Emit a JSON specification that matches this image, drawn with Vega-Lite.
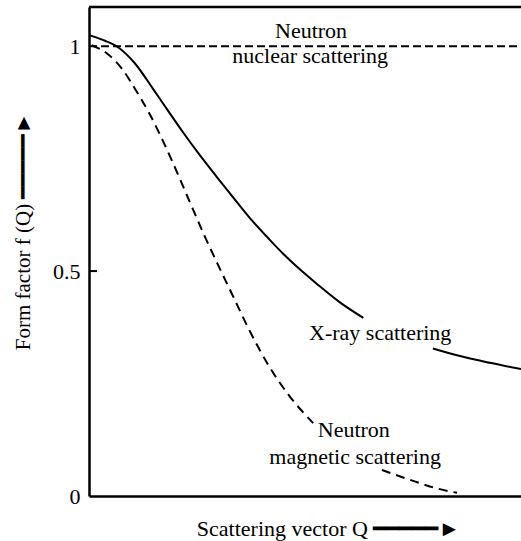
{
  "$schema": "https://vega.github.io/schema/vega-lite/v6.json",
  "autosize": "none",
  "width": 432,
  "height": 489,
  "padding": {"left": 89, "top": 7, "right": 0, "bottom": 45},
  "background": "white",
  "config": {"view": {"stroke": null}, "font": "Liberation Serif"},
  "datasets": {
    "xray1": [
      {"Q": 0.002, "f": 1.024}, {"Q": 0.037, "f": 1.012}, {"Q": 0.068, "f": 0.997},
      {"Q": 0.106, "f": 0.962}, {"Q": 0.149, "f": 0.904}, {"Q": 0.184, "f": 0.855},
      {"Q": 0.218, "f": 0.808}, {"Q": 0.257, "f": 0.757}, {"Q": 0.296, "f": 0.709},
      {"Q": 0.335, "f": 0.662}, {"Q": 0.373, "f": 0.617}, {"Q": 0.415, "f": 0.573},
      {"Q": 0.450, "f": 0.538}, {"Q": 0.488, "f": 0.504}, {"Q": 0.527, "f": 0.472},
      {"Q": 0.580, "f": 0.431}, {"Q": 0.635, "f": 0.396}
    ],
    "xray2": [
      {"Q": 0.796, "f": 0.328}, {"Q": 0.859, "f": 0.311}, {"Q": 0.928, "f": 0.296}, {"Q": 1.0, "f": 0.282}
    ],
    "mag1": [
      {"Q": 0.006, "f": 1.002}, {"Q": 0.044, "f": 0.982}, {"Q": 0.076, "f": 0.950},
      {"Q": 0.106, "f": 0.906}, {"Q": 0.141, "f": 0.848}, {"Q": 0.1875, "f": 0.755},
      {"Q": 0.234, "f": 0.652}, {"Q": 0.269, "f": 0.575}, {"Q": 0.303, "f": 0.505},
      {"Q": 0.334, "f": 0.443}, {"Q": 0.373, "f": 0.365}, {"Q": 0.419, "f": 0.285},
      {"Q": 0.465, "f": 0.221}, {"Q": 0.519, "f": 0.162}
    ],
    "mag2": [
      {"Q": 0.678, "f": 0.058}, {"Q": 0.743, "f": 0.036}, {"Q": 0.801, "f": 0.018}, {"Q": 0.852, "f": 0.007}
    ],
    "nuclear": [{"Q": 0.0, "f": 1.0}, {"Q": 1.0, "f": 1.0}],
    "ticks": [{"f": 0.5}],
    "labels": [
      {"label": "Neutron", "Q": 0.514, "f": 1.018},
      {"label": "nuclear scattering", "Q": 0.512, "f": 0.962},
      {"label": "X-ray scattering", "Q": 0.674, "f": 0.347},
      {"label": "Neutron", "Q": 0.613, "f": 0.132},
      {"label": "magnetic scattering", "Q": 0.616, "f": 0.071}
    ]
  },
  "layer": [
    {
      "data": {"name": "nuclear"},
      "mark": {"type": "line", "color": "black", "strokeWidth": 2, "strokeDash": [8, 4], "clip": true},
      "encoding": {
        "x": {
          "field": "Q", "type": "quantitative",
          "scale": {"domain": [0, 1], "nice": false, "zero": false},
          "axis": {
            "orient": "bottom", "domain": true, "domainColor": "black", "domainWidth": 2.5,
            "ticks": false, "labels": false, "grid": false,
            "title": "Scattering vector Q ━━━━━►",
            "titleFont": "Liberation Serif", "titleFontSize": 22, "titleFontWeight": "normal",
            "titleColor": "black", "titleX": 239, "titleY": 32,
            "titleAlign": "center", "titleBaseline": "middle"
          }
        },
        "y": {
          "field": "f", "type": "quantitative",
          "scale": {"domain": [0, 1.087], "nice": false, "zero": false},
          "axis": {
            "orient": "left", "domain": true, "domainColor": "black", "domainWidth": 2.5,
            "values": [0, 0.5, 1], "format": ".1~f",
            "ticks": false,
            "labelFont": "Liberation Serif", "labelFontSize": 22, "labelColor": "black",
            "labelPadding": 9, "grid": false,
            "title": "Form factor f (Q) ━━━━━►",
            "titleFont": "Liberation Serif", "titleFontSize": 21, "titleFontWeight": "normal",
            "titleColor": "black", "titleX": -66, "titleY": 224,
            "titleAlign": "center", "titleBaseline": "middle", "titleAngle": -90
          }
        }
      }
    },
    {
      "data": {"name": "xray1"},
      "mark": {"type": "line", "color": "black", "strokeWidth": 2, "interpolate": "monotone", "clip": true},
      "encoding": {"x": {"field": "Q", "type": "quantitative"}, "y": {"field": "f", "type": "quantitative"}}
    },
    {
      "data": {"name": "xray2"},
      "mark": {"type": "line", "color": "black", "strokeWidth": 2, "interpolate": "monotone", "clip": true},
      "encoding": {"x": {"field": "Q", "type": "quantitative"}, "y": {"field": "f", "type": "quantitative"}}
    },
    {
      "data": {"name": "mag1"},
      "mark": {"type": "line", "color": "black", "strokeWidth": 2, "strokeDash": [9, 6], "interpolate": "monotone", "clip": true},
      "encoding": {"x": {"field": "Q", "type": "quantitative"}, "y": {"field": "f", "type": "quantitative"}}
    },
    {
      "data": {"name": "mag2"},
      "mark": {"type": "line", "color": "black", "strokeWidth": 2, "strokeDash": [9, 6], "interpolate": "monotone", "clip": true},
      "encoding": {"x": {"field": "Q", "type": "quantitative"}, "y": {"field": "f", "type": "quantitative"}}
    },
    {
      "data": {"values": [{}]},
      "mark": {"type": "rule", "color": "black", "strokeWidth": 2.5},
      "encoding": {"y": {"datum": 1.087}}
    },
    {
      "data": {"name": "ticks"},
      "mark": {"type": "rule", "color": "black", "strokeWidth": 2},
      "encoding": {
        "y": {"field": "f", "type": "quantitative"},
        "x": {"datum": 0},
        "x2": {"datum": 0.0185}
      }
    },
    {
      "data": {"name": "labels"},
      "mark": {"type": "text", "font": "Liberation Serif", "fontSize": 22, "color": "black", "align": "center", "baseline": "alphabetic"},
      "encoding": {
        "x": {"field": "Q", "type": "quantitative"},
        "y": {"field": "f", "type": "quantitative"},
        "text": {"field": "label"}
      }
    }
  ]
}
